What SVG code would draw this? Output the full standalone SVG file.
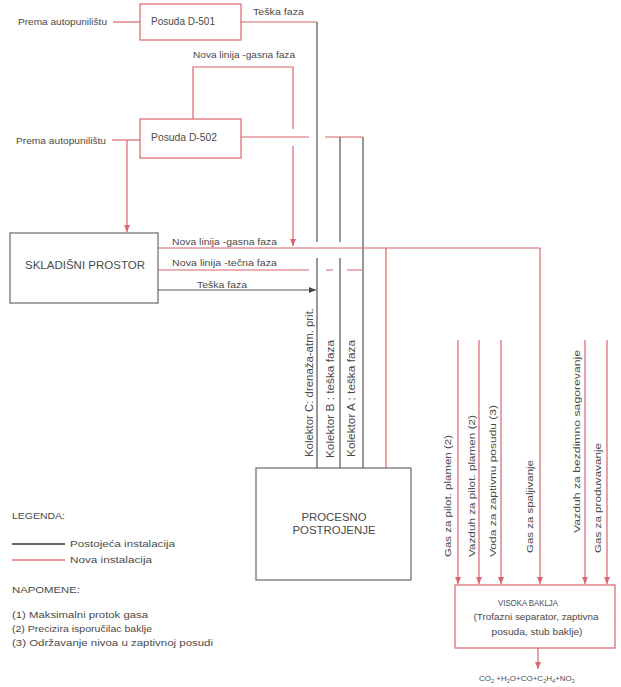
<svg xmlns="http://www.w3.org/2000/svg" width="621" height="687" viewBox="0 0 621 687">
<defs>
<style>
text{font-family:"Liberation Sans",Arial,sans-serif;fill:#4a4a4a;font-size:9px}
.box{fill:#fff;stroke-width:1.2}
.rb{stroke:#d9656b}
.gb{stroke:#6a6a6a}
.n{fill:none;stroke:#d9656b;stroke-width:1.2}
.e{fill:none;stroke:#555;stroke-width:1.2}
.big{font-size:10.5px}
.mid{font-size:10px}
.sm{font-size:8px}
</style>
<marker id="ar" markerUnits="userSpaceOnUse" markerWidth="7" markerHeight="6" refX="7" refY="3" orient="auto"><path d="M0,0 L7,3 L0,6 z" fill="#d9656b"/></marker>
<marker id="ag" markerUnits="userSpaceOnUse" markerWidth="7" markerHeight="6" refX="7" refY="3" orient="auto"><path d="M0,0 L7,3 L0,6 z" fill="#444"/></marker>
</defs>
<rect width="621" height="687" fill="#fff"/>

<g id="connectors">
<path class="n" d="M113,22 H140"/>
<path class="n" d="M241,22 H317"/>
<path class="e" d="M317,22 V242 M317,258 V468"/>
<path class="n" d="M112,140 H140"/>
<path class="n" d="M127,140 V232" marker-end="url(#ar)"/>
<path class="n" d="M193,119 V67 H293 V129"/>
<path class="n" d="M293,146 V246" marker-end="url(#ar)"/>
<path class="n" d="M241,137 H309 M325,137 H363"/>
<path class="e" d="M340,137 V242 M340,258 V468 M363,137 V468"/>
<path class="n" d="M158,248 H540 V584" marker-end="url(#ar)"/>
<path class="n" d="M386,248 V468"/>
<path class="n" d="M158,270 H309 M326,270 H333 M347,270 H362"/>
<path class="e" d="M158,290 H316" marker-end="url(#ag)"/>
<path class="n" d="M458,340 V584" marker-end="url(#ar)"/>
<path class="n" d="M479,340 V584" marker-end="url(#ar)"/>
<path class="n" d="M501,340 V584" marker-end="url(#ar)"/>
<path class="n" d="M585,340 V584" marker-end="url(#ar)"/>
<path class="n" d="M607,340 V584" marker-end="url(#ar)"/>
<path class="n" d="M538,648 V669" marker-end="url(#ar)"/>
</g>

<g id="labels">
<text x="18" y="25" textLength="89" lengthAdjust="spacingAndGlyphs">Prema autopunilištu</text>
<text x="253" y="15" textLength="51" lengthAdjust="spacingAndGlyphs">Teška faza</text>
<text x="193" y="58" textLength="102" lengthAdjust="spacingAndGlyphs">Nova linija -gasna faza</text>
<text x="16" y="144" textLength="90" lengthAdjust="spacingAndGlyphs">Prema autopunilištu</text>
<text x="172" y="245" textLength="105" lengthAdjust="spacingAndGlyphs">Nova linija -gasna faza</text>
<text x="172" y="266" textLength="105" lengthAdjust="spacingAndGlyphs">Nova linija -tečna faza</text>
<text x="197" y="288" textLength="50" lengthAdjust="spacingAndGlyphs">Teška faza</text>
<text class="mid" transform="translate(313,457) rotate(-90)" textLength="149" lengthAdjust="spacingAndGlyphs">Kolektor C: drenaža-atm. prit.</text>
<text class="mid" transform="translate(334,458) rotate(-90)" textLength="118" lengthAdjust="spacingAndGlyphs">Kolektor B : teška faza</text>
<text class="mid" transform="translate(355,457) rotate(-90)" textLength="117" lengthAdjust="spacingAndGlyphs">Kolektor A : teška faza</text>
<text transform="translate(451,557) rotate(-90)" textLength="122" lengthAdjust="spacingAndGlyphs">Gas za pilot. plamen (2)</text>
<text transform="translate(475,557) rotate(-90)" textLength="142" lengthAdjust="spacingAndGlyphs">Vazduh za pilot. plamen (2)</text>
<text transform="translate(496,557) rotate(-90)" textLength="152" lengthAdjust="spacingAndGlyphs">Voda za zaptivnu posudu (3)</text>
<text transform="translate(533,553) rotate(-90)" textLength="93" lengthAdjust="spacingAndGlyphs">Gas za spaljivanje</text>
<text transform="translate(580,533) rotate(-90)" textLength="183" lengthAdjust="spacingAndGlyphs">Vazduh  za bezdimno  sagorevanje</text>
<text transform="translate(601,553) rotate(-90)" textLength="110" lengthAdjust="spacingAndGlyphs">Gas za produvavanje</text>
</g>

<g id="posuda-d501">
<rect class="box rb" x="140" y="4" width="101" height="36"/>
<text class="mid" x="151" y="25" textLength="64" lengthAdjust="spacingAndGlyphs">Posuda D-501</text>
</g>

<g id="posuda-d502">
<rect class="box rb" x="140" y="119" width="101" height="39"/>
<text class="mid" x="151" y="141" textLength="66" lengthAdjust="spacingAndGlyphs">Posuda D-502</text>
</g>

<g id="skladisni-prostor">
<rect class="box gb" x="10" y="233" width="148" height="70"/>
<text class="big" x="85" y="269" text-anchor="middle" textLength="120" lengthAdjust="spacingAndGlyphs">SKLADIŠNI PROSTOR</text>
</g>

<g id="procesno-postrojenje">
<rect class="box gb" x="256" y="468" width="155" height="112"/>
<text class="mid" x="334" y="521" text-anchor="middle" textLength="65" lengthAdjust="spacingAndGlyphs">PROCESNO</text>
<text class="mid" x="334" y="534" text-anchor="middle" textLength="83" lengthAdjust="spacingAndGlyphs">POSTROJENJE</text>
</g>

<g id="visoka-baklja">
<rect class="box rb" x="455" y="585" width="160" height="63"/>
<text x="528" y="606" text-anchor="middle" textLength="60" lengthAdjust="spacingAndGlyphs">VISOKA BAKLJA</text>
<text x="536" y="620" text-anchor="middle" textLength="125" lengthAdjust="spacingAndGlyphs">(Trofazni separator, zaptivna</text>
<text x="537" y="635" text-anchor="middle" textLength="91" lengthAdjust="spacingAndGlyphs">posuda, stub baklje)</text>
</g>

<g id="produkti">
<text class="sm" x="479" y="681">CO<tspan font-size="5.5" dy="2">2</tspan><tspan dy="-2"> +H</tspan><tspan font-size="5.5" dy="2">2</tspan><tspan dy="-2">O+CO+C</tspan><tspan font-size="5.5" dy="2">2</tspan><tspan dy="-2">H</tspan><tspan font-size="5.5" dy="2">4</tspan><tspan dy="-2">+NO</tspan><tspan font-size="5.5" dy="2">2</tspan></text>
</g>

<g id="legenda">
<text x="12" y="519" textLength="53" lengthAdjust="spacingAndGlyphs">LEGENDA:</text>
<path d="M12,544 H65" stroke="#333" stroke-width="1.6"/>
<text x="70" y="547" textLength="105" lengthAdjust="spacingAndGlyphs">Postojeća instalacija</text>
<path d="M12,560 H65" stroke="#e07a80" stroke-width="1.6"/>
<text x="70" y="563" textLength="82" lengthAdjust="spacingAndGlyphs">Nova instalacija</text>
<text x="12" y="593" textLength="68" lengthAdjust="spacingAndGlyphs">NAPOMENE:</text>
<text x="12" y="618" textLength="136" lengthAdjust="spacingAndGlyphs">(1) Maksimalni protok gasa</text>
<text x="12" y="632" textLength="140" lengthAdjust="spacingAndGlyphs">(2) Precizira isporučilac baklje</text>
<text x="12" y="646" textLength="201" lengthAdjust="spacingAndGlyphs">(3) Održavanje nivoa u zaptivnoj posudi</text>
</g>
</svg>
